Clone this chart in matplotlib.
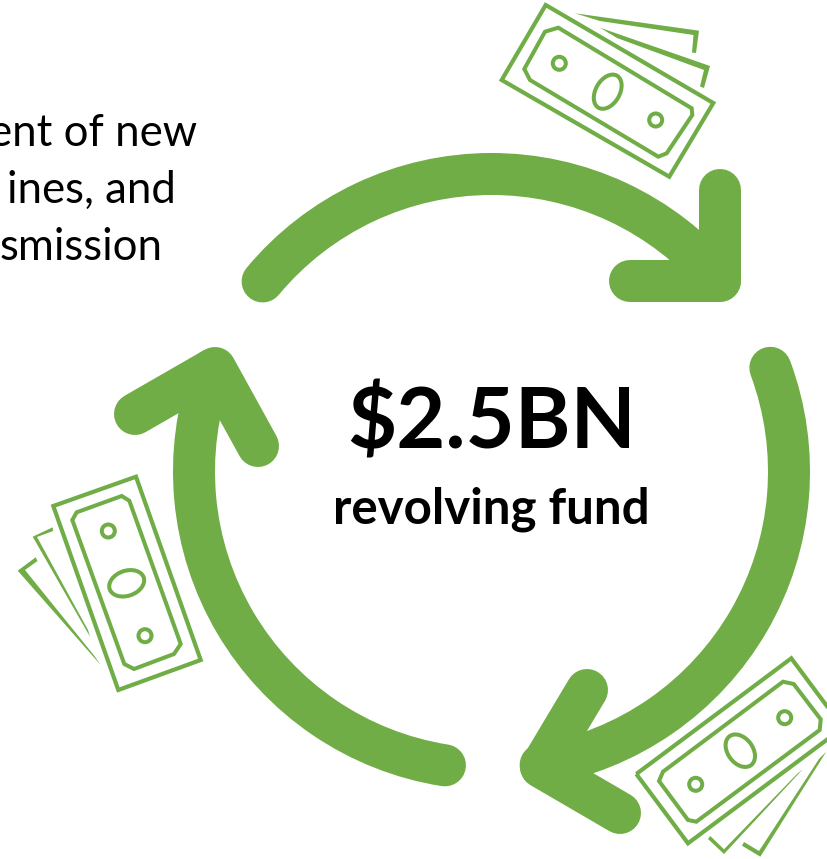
import matplotlib
matplotlib.use("Agg")
import matplotlib.pyplot as plt
from matplotlib.patches import Arc, Ellipse, Polygon

GREEN = "#70AD47"
plt.rcParams["font.family"] = ["Lato", "DejaVu Sans"]

# ring, all in picture pixels (y down)
center = (491.5, 471.5)
radius = 297.5
ring_lw = 42 * 0.72
arc_angles = [(219.7, 320.1), (339.6, 440.5), (99.0, 200.0)]
arrow_heads = [
    [(720, 190), (720, 281), (630, 281)],
    [(587, 690), (541, 767), (620, 813)],
    [(135, 414), (215, 368), (258, 446)],
]

# money icons: outer note, inner border, two dots, oval, back notes
top_outer = [(545.7, 5), (713.3, 103), (669.3, 176.7), (501.7, 80)]
top_inner = [(545, 31.7), (558.3, 27.7), (691.7, 108.3), (692.3, 115), (666.7, 153.3), (658.3, 156.7), (530, 80), (524.3, 69)]
top_dots = [(559.3, 63.3), (655.7, 120)]
top_oval = (607.7, 91.7, 37, 24, 120)
top_back = [
    [(575, 13.3), (699, 30.7), (696, 53), (692, 52.5), (693.5, 35), (600, 21)],
    [(600, 27.7), (710, 66), (704, 88), (700, 86.5), (704, 70), (617, 38)],
]

left_outer = [(136, 476.7), (200.7, 660), (118.3, 690), (53.3, 506)]
left_inner = [(121.7, 496), (129.3, 500.7), (180.7, 644), (174, 654), (134, 669), (124.3, 664), (72.3, 520), (76.7, 512.3)]
left_dots = [(108.3, 531), (145, 635.7)]
left_oval = (126.7, 583.3, 36, 25, 160.6)
left_back = [
    [(52.7, 527.3), (32.7, 536.7), (90, 636.7), (88, 630), (37, 537), (53, 531)],
    [(35.7, 557.3), (17.7, 570.7), (100.7, 665), (94.5, 656), (25, 570), (37.5, 561)],
]

right_outer = [(636.3, 774), (791.3, 658.3), (843, 727.7), (688, 843.3)]
right_inner = [(663, 771.7), (783, 681.7), (793.7, 684), (820.7, 719.3), (819.7, 730), (696.3, 821.7), (688, 820), (659, 781)]
right_dots = [(695.7, 784.3), (784.7, 717.7)]
right_oval = (740.3, 750.7, 36, 25, 53.3)
right_back = [
    [(708, 839), (724, 854), (803, 769), (797, 774), (724, 849.3), (710.3, 836)],
    [(742, 845.7), (760.3, 856.7), (826.3, 751.7), (819, 759), (759, 851), (744, 842)],
]

# text
title = "$2.5BN"
subtitle = "revolving fund"
clipped_lines = ["ent of new", "ines, and", "smission"]
line_ends = [197, 176, 163]
line_baselines = [146, 203, 260]

fig = plt.figure(figsize=(8.28, 8.59), dpi=100)
ax = fig.add_axes([0, 0, 1, 1])
ax.set_xlim(0, 828)
ax.set_ylim(859, 0)
ax.axis("off")

for t1, t2 in arc_angles:
    ax.add_patch(Arc(center, 2 * radius, 2 * radius, theta1=t1, theta2=t2,
                     lw=ring_lw, color=GREEN, capstyle="round"))
for head in arrow_heads:
    xs, ys = zip(*head)
    ax.plot(xs, ys, color=GREEN, lw=ring_lw, solid_capstyle="round", solid_joinstyle="round")


def draw_money(outer, inner, dots, oval, back):
    ax.add_patch(Polygon(outer, closed=True, fill=False, ec=GREEN, lw=3))
    ax.add_patch(Polygon(inner, closed=True, fill=False, ec=GREEN, lw=2.9))
    for d in dots:
        ax.add_patch(Ellipse(d, 13, 13, fill=False, ec=GREEN, lw=2.9))
    x, y, w, h, ang = oval
    ax.add_patch(Ellipse((x, y), w, h, angle=ang, fill=False, ec=GREEN, lw=2.9))
    for b in back:
        ax.add_patch(Polygon(b, closed=True, fc=GREEN, ec="none"))


draw_money(top_outer, top_inner, top_dots, top_oval, top_back)
draw_money(left_outer, left_inner, left_dots, left_oval, left_back)
draw_money(right_outer, right_inner, right_dots, right_oval, right_back)

ax.text(491.5, 448, title, fontsize=61, fontweight="bold", ha="center", va="baseline", color="black")
ax.text(491, 524, subtitle, fontsize=35.5, fontweight="bold", ha="center", va="baseline", color="black")
for s, x, y in zip(clipped_lines, line_ends, line_baselines):
    ax.text(x, y, s, fontsize=31.5, ha="right", va="baseline", color="black")

fig.savefig("out.png", dpi=100)
